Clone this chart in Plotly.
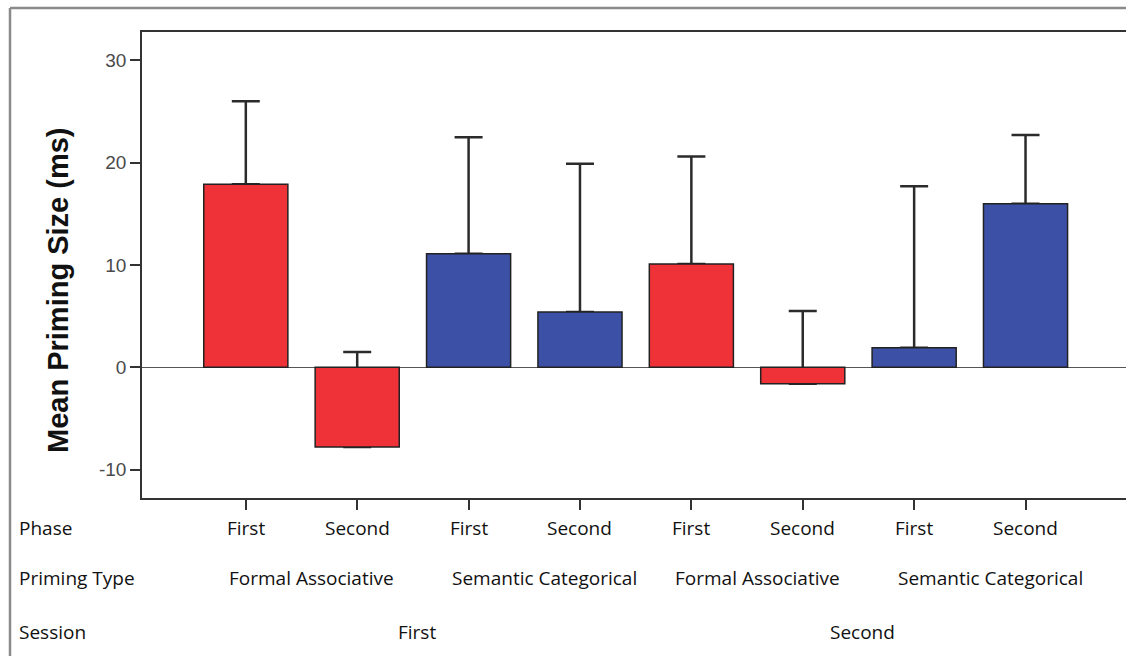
import plotly.graph_objects as go

# Mean priming size (ms) per condition, with the upper bound of each error bar
phase = ["First", "Second", "First", "Second", "First", "Second", "First", "Second"]
priming_type = ["Formal Associative", "Semantic Categorical",
                "Formal Associative", "Semantic Categorical"]
session = ["First", "Second"]
mean_priming = [17.9, -7.8, 11.1, 5.4, 10.1, -1.6, 1.9, 16.0]
upper_bound = [26.0, 1.5, 22.5, 19.9, 20.6, 5.5, 17.7, 22.7]
bar_colors = ["#EF3238", "#EF3238", "#3C51A6", "#3C51A6",
              "#EF3238", "#EF3238", "#3C51A6", "#3C51A6"]
y_ticks = [-10, 0, 10, 20, 30]
y_tick_text = ["-10", "0", "10", "20", "30"]

W, H = 1126, 656
ML, MR, MT, MB = 142, 0, 32, 158
plot_w = W - ML - MR
plot_h = H - MT - MB


def px_x(px):
    return (px - ML) / plot_w


def px_y(py):
    return (H - MB - py) / plot_h


x_pos = list(range(len(mean_priming)))
err_plus = [u - m for u, m in zip(upper_bound, mean_priming)]
bar_w = 0.755

fig = go.Figure()
# transparent bars carry the error bars so the coloured bars cover their lower part
fig.add_trace(go.Bar(
    x=x_pos, y=mean_priming, width=bar_w,
    marker=dict(color="rgba(0,0,0,0)", line=dict(width=0)),
    error_y=dict(type="data", symmetric=False, array=err_plus,
                 arrayminus=[0] * len(err_plus),
                 color="#2b2b2b", thickness=2.5, width=14),
    hoverinfo="skip", showlegend=False,
))
fig.add_trace(go.Bar(
    x=x_pos, y=mean_priming, width=bar_w,
    marker=dict(color=bar_colors, line=dict(color="#222222", width=1.5)),
    showlegend=False,
))

label_font = dict(family="Open Sans", size=19, color="#111111")
ann = []
# row headers
for text, py in [("Phase", 528), ("Priming Type", 578), ("Session", 632)]:
    ann.append(dict(text=text, xref="paper", yref="paper", x=px_x(17), y=px_y(py),
                    xanchor="left", yanchor="middle", showarrow=False, font=label_font))
# phase row
for i, t in enumerate(phase):
    ann.append(dict(text=t, xref="x", yref="paper", x=i, y=px_y(528),
                    xanchor="center", yanchor="middle", showarrow=False, font=label_font))
# priming type row
for j, t in enumerate(priming_type):
    ann.append(dict(text=t, xref="x", yref="paper", x=2 * j, xshift=-18.5, y=px_y(578),
                    xanchor="left", yanchor="middle", showarrow=False, font=label_font))
# session row
for k, t in enumerate(session):
    ann.append(dict(text=t, xref="x", yref="paper", x=4 * k + 1.5, xshift=4, y=px_y(632),
                    xanchor="center", yanchor="middle", showarrow=False, font=label_font))
# y-axis title
ann.append(dict(text="<b>Mean Priming Size (ms)</b>", xref="paper", yref="paper",
                x=px_x(58), y=px_y(290), textangle=-90, xanchor="center", yanchor="middle",
                showarrow=False,
                font=dict(family="Liberation Sans, Arial", size=29, color="#111111")))

shapes = [
    # outer frame (left and top edges)
    dict(type="line", xref="paper", yref="paper", x0=px_x(10), x1=px_x(W + 5),
         y0=px_y(8), y1=px_y(8), line=dict(color="#8a8a8a", width=2.5)),
    dict(type="line", xref="paper", yref="paper", x0=px_x(10), x1=px_x(10),
         y0=px_y(8), y1=px_y(H + 5), line=dict(color="#8a8a8a", width=2.5)),
]

fig.update_layout(
    width=W, height=H,
    margin=dict(l=ML, r=MR, t=MT, b=MB),
    paper_bgcolor="white", plot_bgcolor="white",
    barmode="overlay",
    annotations=ann, shapes=shapes,
    xaxis=dict(range=[-0.932, 7.902], tickvals=x_pos, ticktext=[""] * len(x_pos),
               showline=True, linecolor="#333333", linewidth=1.6, mirror=True,
               ticks="outside", ticklen=10, tickwidth=1.6, tickcolor="#333333",
               showgrid=False, zeroline=False, fixedrange=True),
    yaxis=dict(range=[-12.78, 32.78], tickvals=y_ticks, ticktext=y_tick_text,
               showline=True, linecolor="#333333", linewidth=1.6,
               ticks="outside", ticklen=10, tickwidth=1.6, tickcolor="#333333",
               tickfont=dict(family="Liberation Sans, Arial", size=19, color="#4a4a4a"),
               showgrid=False, zeroline=True, zerolinecolor="#555555", zerolinewidth=1.2,
               fixedrange=True),
)

fig.write_html("out.html")
